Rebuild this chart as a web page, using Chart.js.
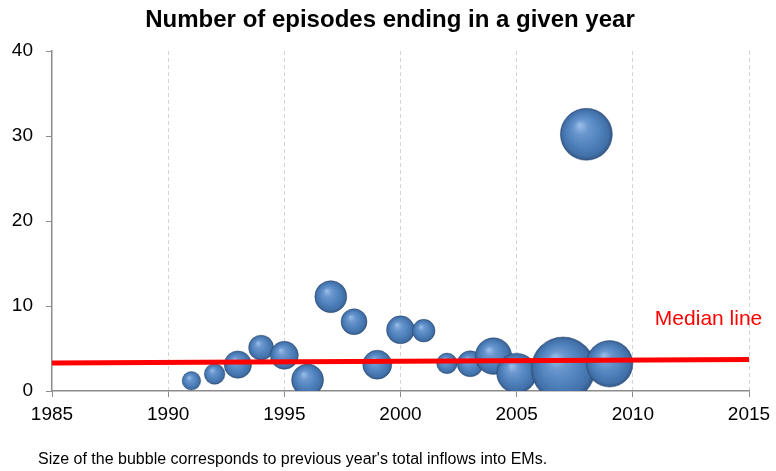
<!DOCTYPE html>
<html>
<head>
<meta charset="utf-8">
<script src="https://cdn.jsdelivr.net/npm/chart.js@4/dist/chart.umd.min.js"></script>
<style>
    html, body { margin: 0; padding: 0; background: #fff; }
    #wrap { width: 776px; height: 471px; }
</style>
</head>
<body>
<div id="wrap"><canvas id="episodes-chart"></canvas></div>
<script>
// Episodes ending per year, bubble size = previous year's total inflows into EMs
const years = [1991, 1992, 1993, 1994, 1995, 1996, 1997, 1998, 1999, 2000, 2001, 2002, 2003, 2004, 2005, 2007, 2008, 2009];
const episodes = [1.2, 2.0, 3.1, 5.1, 4.2, 1.3, 11.1, 8.15, 3.1, 7.2, 7.1, 3.25, 3.2, 4.1, 2.1, 2.6, 30.2, 3.2];
const inflows = [8.6, 10.6, 18.8, 15.6, 19.6, 25.6, 25.6, 16.9, 21, 19.6, 12.8, 10.6, 16.9, 33.5, 40, 102, 67.6, 54.3];

const medianYears = [1985, 2015];
const medianValues = [3.3, 3.7];

const xTicks = { min: 1985, max: 2015, step: 5 };
const yTicks = { min: 0, max: 40, step: 10 };

const FONT = "'Liberation Sans', Arial, sans-serif";
const AXIS_GREY = "#8c8c8c";
const TITLE = "Number of episodes ending in a given year";
const FOOTNOTE = "Size of the bubble corresponds to previous year's total inflows into EMs.";

// bubble radius in px from the inflow value (area proportional to inflows)
const bubbleRadius = (v) => Math.sqrt(v * 10);

/**
 * Shaded fill for a bubble: light spot up-left, darker rim
 */
const bubbleFill = (context) => {
    const chart = context.chart;
    const raw = context.raw;
    if (context.type !== "data" || !raw || !chart.chartArea) {
        return "#4f80bd";
    }
    const cx = chart.scales.x.getPixelForValue(raw.x);
    const cy = chart.scales.y.getPixelForValue(raw.y);
    const r = raw.r;
    const g = chart.ctx.createRadialGradient(cx - r * 0.25, cy - r * 0.35, r * 0.05, cx, cy, r);
    g.addColorStop(0, "#93b9e6");
    g.addColorStop(0.25, "#6a96cd");
    g.addColorStop(0.6, "#5082bd");
    g.addColorStop(0.88, "#4270a8");
    g.addColorStop(1, "#335686");
    return g;
};

const bubbleData = years.map((year, i) => ({ x: year, y: episodes[i], r: bubbleRadius(inflows[i]) }));
const medianData = medianYears.map((year, i) => ({ x: year, y: medianValues[i] }));

// title centred on the page, red caption by the median line, note under the axis
const annotations = {
    id: "annotations",
    afterDraw(chart) {
        const { ctx, scales, width } = chart;
        ctx.save();
        ctx.textBaseline = "middle";

        ctx.font = `bold 24px ${FONT}`;
        ctx.fillStyle = "#000";
        ctx.textAlign = "center";
        ctx.fillText(TITLE, width / 2 + 2, 20);

        ctx.font = `21px ${FONT}`;
        ctx.fillStyle = "#ff0000";
        ctx.fillText("Median line", scales.x.getPixelForValue(2013.26), scales.y.getPixelForValue(8.4));

        ctx.font = `16px ${FONT}`;
        ctx.fillStyle = "#000";
        ctx.textAlign = "left";
        ctx.fillText(FOOTNOTE, 38, 460);
        ctx.restore();
    }
};

const config = {
    type: "bubble",
    data: {
        datasets: [
            {
                type: "line",
                label: "Median line",
                data: medianData,
                borderColor: "#ff0000",
                borderWidth: 5,
                pointRadius: 0,
                order: 0
            },
            {
                label: "Episodes",
                data: bubbleData,
                backgroundColor: bubbleFill,
                borderColor: "rgba(45, 75, 115, 0.45)",
                borderWidth: 1,
                order: 1
            }
        ]
    },
    options: {
        responsive: true,
        maintainAspectRatio: false,
        animation: false,
        events: [],
        layout: {
            autoPadding: false,
            padding: { left: 0, right: 27, top: 51, bottom: 28 }
        },
        plugins: {
            legend: { display: false },
            tooltip: { enabled: false },
            title: { display: false }
        },
        scales: {
            x: {
                type: "linear",
                min: xTicks.min,
                max: xTicks.max,
                afterFit: (scale) => {
                    scale.height = 52;
                    scale.paddingLeft = 0;
                    scale.paddingRight = 0;
                },
                ticks: {
                    stepSize: xTicks.step,
                    callback: (v) => String(v),
                    color: "#000",
                    font: { family: FONT, size: 19 },
                    padding: 6
                },
                grid: {
                    color: (c) => (c.tick && c.tick.value === xTicks.min ? "rgba(0,0,0,0)" : "#d4d4d4"),
                    tickColor: AXIS_GREY,
                    tickLength: 6,
                    lineWidth: 1
                },
                border: { color: AXIS_GREY, width: 1.5, dash: [4, 3] }
            },
            y: {
                min: yTicks.min,
                max: yTicks.max,
                afterFit: (scale) => {
                    scale.width = 52;
                    scale.paddingTop = 0;
                    scale.paddingBottom = 0;
                },
                ticks: {
                    stepSize: yTicks.step,
                    color: "#000",
                    font: { family: FONT, size: 19 },
                    padding: 13
                },
                grid: {
                    drawOnChartArea: false,
                    tickColor: AXIS_GREY,
                    tickLength: 6
                },
                border: { color: AXIS_GREY, width: 1.5 }
            }
        }
    },
    plugins: [annotations]
};

const chart = new Chart(document.getElementById("episodes-chart"), config);
</script>
</body>
</html>
